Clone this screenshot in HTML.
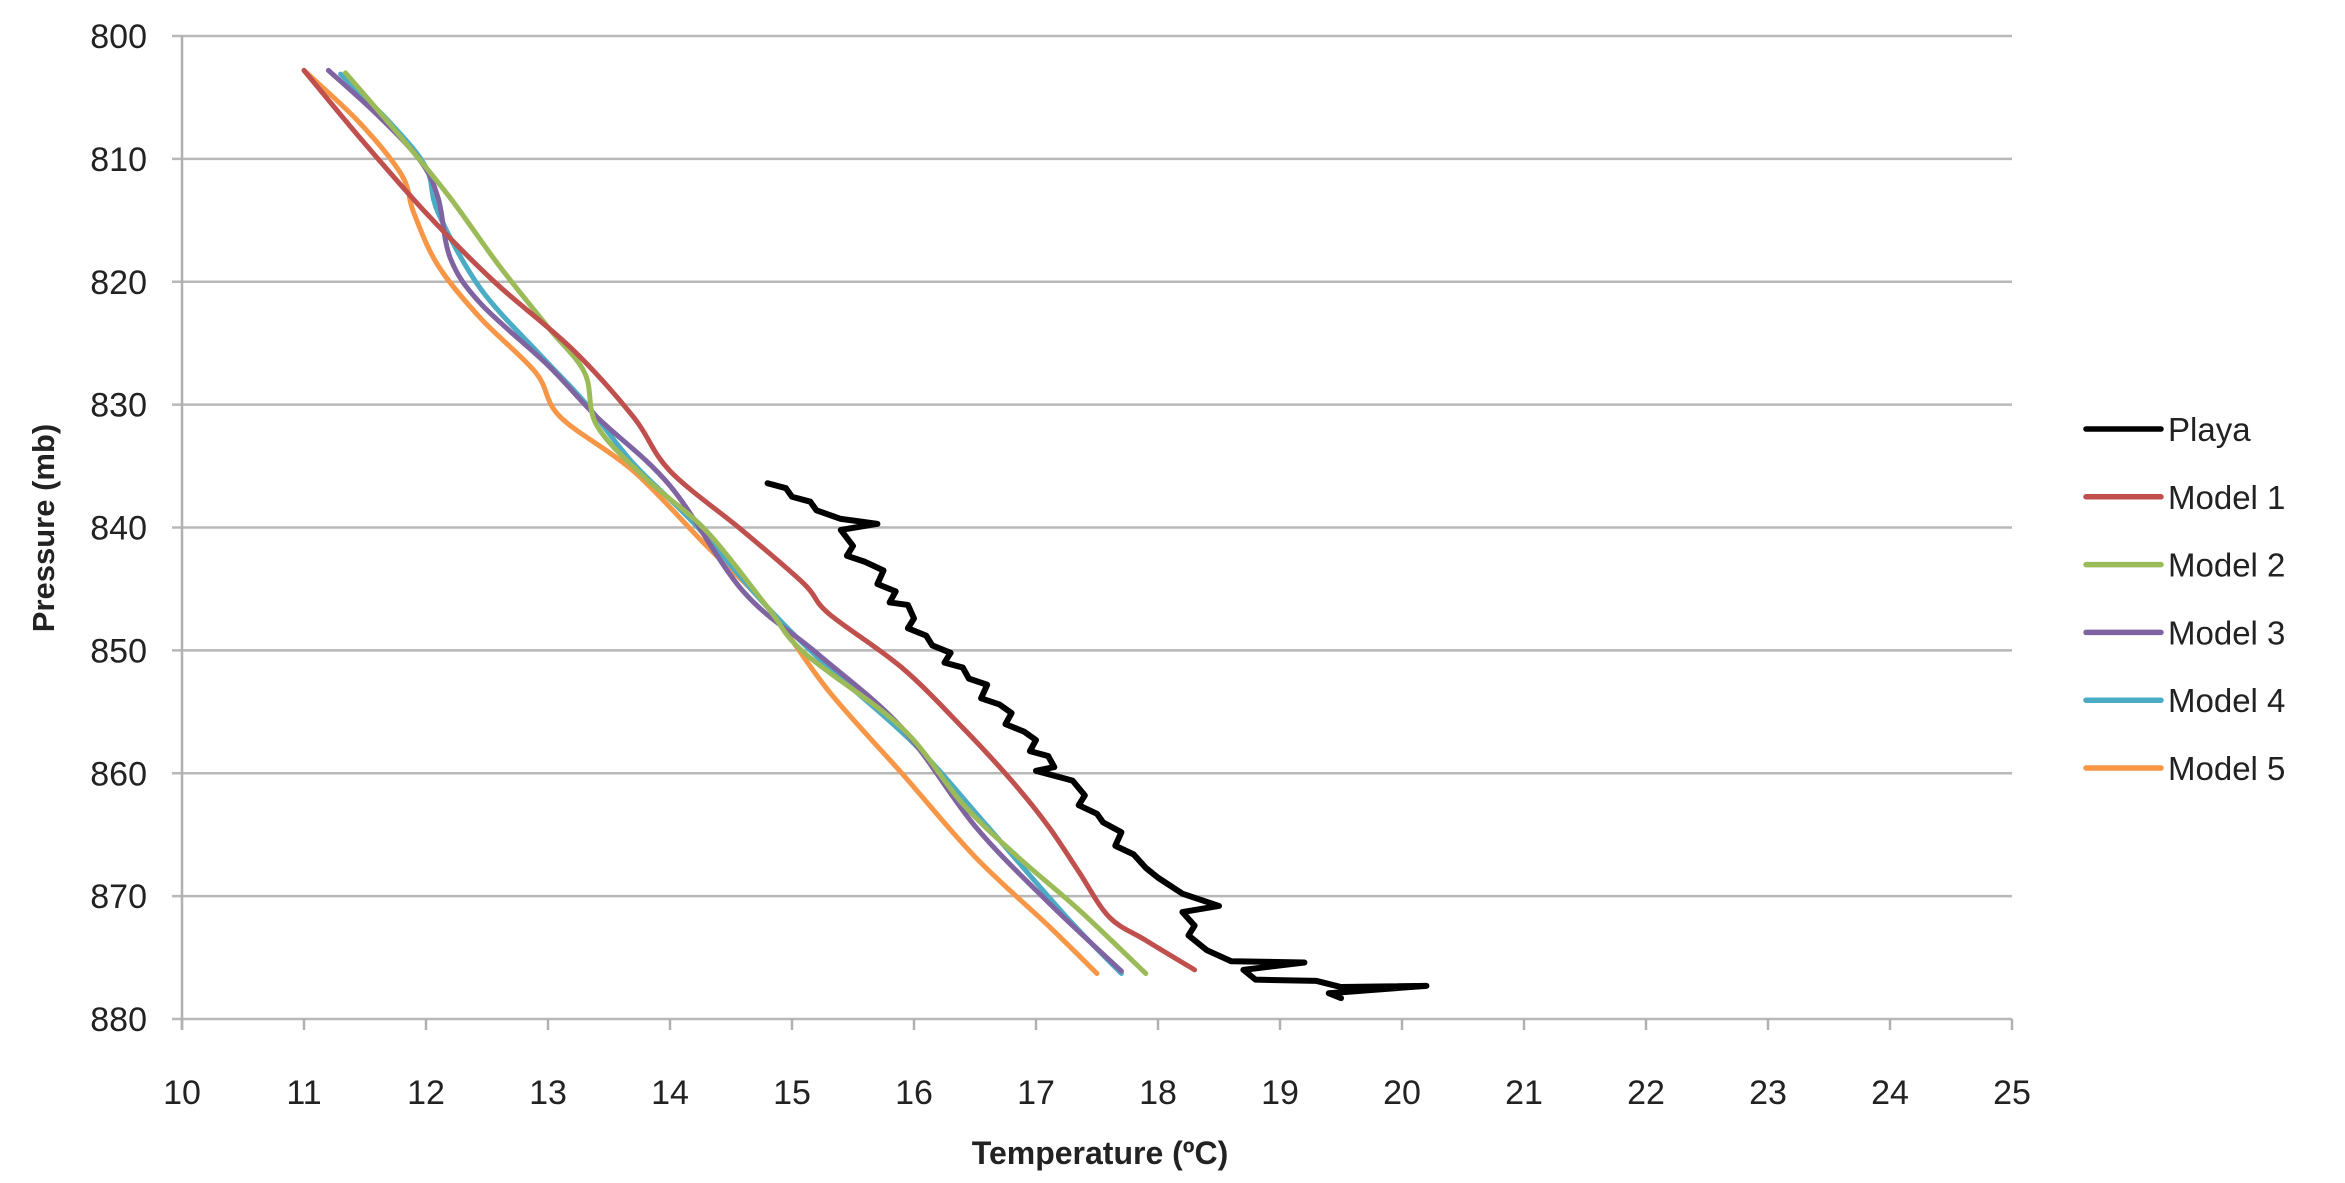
<!DOCTYPE html>
<html><head><meta charset="utf-8"><style>
html,body{margin:0;padding:0;background:#fff;}
svg{display:block;font-family:"Liberation Sans",sans-serif;}
</style></head><body>
<svg id="chart" width="2345" height="1183" viewBox="0 0 2345 1183" xmlns="http://www.w3.org/2000/svg">
<g id="grid"></g>
<g id="axes"></g>
<g id="series"></g>
<g id="legend"></g>
<text x="0" y="0" transform="translate(54,528) rotate(-90)" text-anchor="middle" font-size="31" font-weight="bold" fill="#222">Pressure (mb)</text>
<text x="1100" y="1164" text-anchor="middle" font-size="32" font-weight="bold" fill="#222">Temperature (ºC)</text>
</svg>
<script>
const xTicks=[10,11,12,13,14,15,16,17,18,19,20,21,22,23,24,25];
const yTicks=[800,810,820,830,840,850,860,870,880];
const seriesNames=["Playa","Model 1","Model 2","Model 3","Model 4","Model 5"];
const seriesColors=["#000000","#c0504d","#9bbb59","#8064a2","#4bacc6","#f79646"];
const playaT=[14.8,14.95,15.0,15.15,15.2,15.4,15.7,15.4,15.5,15.45,15.6,15.75,15.7,15.85,15.8,15.95,16.0,15.95,16.1,16.15,16.3,16.25,16.4,16.45,16.6,16.55,16.7,16.8,16.75,16.9,17.0,16.95,17.1,17.15,17.0,17.3,17.4,17.35,17.5,17.55,17.7,17.65,17.8,17.9,18.0,18.2,18.5,18.2,18.3,18.25,18.4,18.6,19.2,18.7,18.8,19.3,19.5,20.2,19.4,19.5];
const playaP=[836.4,836.8,837.5,837.9,838.6,839.3,839.7,840.2,841.5,842.3,842.8,843.5,844.6,845.2,846.1,846.3,847.4,848.2,848.8,849.6,850.2,851.0,851.4,852.3,852.8,853.9,854.4,855.1,856.0,856.6,857.3,858.2,858.6,859.5,859.8,860.6,861.8,862.6,863.3,864.0,864.8,865.9,866.6,867.7,868.5,869.8,870.8,871.3,872.4,873.2,874.4,875.3,875.4,876.0,876.8,876.9,877.4,877.3,877.9,878.3];
const m1T=[11.0,11.46,12.0,12.56,13.2,13.7,14.0,14.6,15.1,15.3,15.9,16.4,16.8,17.1,17.35,17.6,17.9,18.3];
const m1P=[802.8,808.3,814.4,820,825.5,831,835.4,840.3,844.6,847,851.4,856.3,860.6,864.3,868,871.7,873.6,876];
const m2T=[11.34,11.8,12.2,12.6,13.0,13.3,13.4,13.8,14.3,14.8,15.1,15.9,16.4,16.85,17.35,17.9];
const m2P=[803,808.3,813.2,818.7,823.7,827.4,831.7,836,840.3,846.5,850.2,856.3,862.5,866.8,871.1,876.3];
const m3T=[11.2,11.6,11.95,12.1,12.2,12.45,13.0,13.4,14.0,14.6,15.2,15.9,16.5,17.1,17.7];
const m3P=[802.8,806.4,810.1,813.2,818.1,821.8,826.8,831,836.6,845.2,850.2,856.3,864.3,870.5,876.1];
const m4T=[11.3,11.7,12.0,12.1,12.45,12.95,13.3,13.7,14.2,14.8,15.3,16.0,16.6,17.25,17.7];
const m4P=[803.1,807,810.7,814.4,820.6,826.1,829.8,834.8,839.7,846.5,851.4,857.6,864.3,871.7,876.3];
const m5T=[11.0,11.45,11.8,11.9,12.1,12.45,12.9,13.1,13.7,14.3,14.8,15.3,15.9,16.5,17.1,17.5];
const m5P=[802.8,807,811.3,814.4,818.7,823,827.4,831,835.4,841.5,846.5,853.3,860,866.8,872.4,876.3];

const NS="http://www.w3.org/2000/svg";
const X0=182,X1=2012,Y0=36,Y1=1019;
function xs(t){return X0+(t-10)/15*(X1-X0);}
function ys(p){return Y0+(p-800)/80*(Y1-Y0);}
function mk(tag,parent){const e=document.createElementNS(NS,tag);parent.appendChild(e);return e;}
const grid=document.getElementById('grid'),axes=document.getElementById('axes'),ser=document.getElementById('series'),leg=document.getElementById('legend');
yTicks.forEach(v=>{
  const l=mk('line',grid);
  
  
  l.setAttribute('x1',X0-10);l.setAttribute('x2',X1);l.setAttribute('y1',ys(v));l.setAttribute('y2',ys(v));
  l.setAttribute('stroke','#b8b8b8');l.setAttribute('stroke-width','2.5');
  const t=mk('text',axes);
  
  
  t.setAttribute('x',147);t.setAttribute('y',ys(v)+12);t.setAttribute('text-anchor','end');
  t.setAttribute('font-size','34');t.setAttribute('fill','#222');t.textContent=v;
});
const ya=mk('line',axes);


ya.setAttribute('x1',X0);ya.setAttribute('x2',X0);ya.setAttribute('y1',Y0);ya.setAttribute('y2',Y1+10);ya.setAttribute('stroke','#b0b0b0');ya.setAttribute('stroke-width','2.5');
xTicks.forEach(v=>{
  const l=mk('line',axes);
  
  
  l.setAttribute('x1',xs(v));l.setAttribute('x2',xs(v));l.setAttribute('y1',Y1);l.setAttribute('y2',Y1+11);
  l.setAttribute('stroke','#b0b0b0');l.setAttribute('stroke-width','2.5');
  const t=mk('text',axes);
  
  
  t.setAttribute('x',xs(v));t.setAttribute('y',1104);t.setAttribute('text-anchor','middle');
  t.setAttribute('font-size','34');t.setAttribute('fill','#222');t.textContent=v;
});
const seriesT=[playaT,m1T,m2T,m3T,m4T,m5T],seriesP=[playaP,m1P,m2P,m3P,m4P,m5P];
[5,4,3,2,1,0].forEach(i=>{
  const p=mk('path',ser);
  
  
  const T=seriesT[i],P=seriesP[i];
  let d;
  if(i===0){
    d='M'+xs(T[0])+','+ys(P[0]);
    for(let k=1;k<T.length;k++){d+=' L'+xs(T[k])+','+ys(P[k]);}
  } else {
    const pts=T.map((t,k)=>[xs(t),ys(P[k])]);
    d='M'+pts[0][0]+','+pts[0][1];
    for(let k=0;k<pts.length-1;k++){
      const p0=pts[Math.max(k-1,0)],p1=pts[k],p2=pts[k+1],p3=pts[Math.min(k+2,pts.length-1)];
      const c1=[p1[0]+(p2[0]-p0[0])/6,p1[1]+(p2[1]-p0[1])/6],c2=[p2[0]-(p3[0]-p1[0])/6,p2[1]-(p3[1]-p1[1])/6];
      d+=' C'+c1[0]+','+c1[1]+' '+c2[0]+','+c2[1]+' '+p2[0]+','+p2[1];
    }
  }
  p.setAttribute('d',d);p.setAttribute('fill','none');p.setAttribute('stroke',seriesColors[i]);
  p.setAttribute('stroke-width',i===0?'6':'5');p.setAttribute('stroke-linecap','round');p.setAttribute('stroke-linejoin','round');
});
seriesNames.forEach((n,i)=>{
  const y=429+i*67.8;
  const l=mk('line',leg);
  
  
  l.setAttribute('x1',2086);l.setAttribute('x2',2161);l.setAttribute('y1',y);l.setAttribute('y2',y);
  l.setAttribute('stroke',seriesColors[i]);l.setAttribute('stroke-width','5.5');l.setAttribute('stroke-linecap','round');
  const t=mk('text',leg);
  
  
  t.setAttribute('x',2168);t.setAttribute('y',y+12);t.setAttribute('font-size','33');t.setAttribute('fill','#222');t.textContent=n;
});
</script>
</body></html>
